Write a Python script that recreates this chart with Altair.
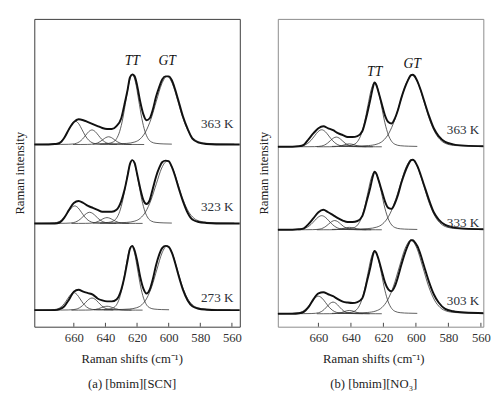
import altair as alt
import pandas as pd

FONT = "Liberation Serif"

# ---------------- data ----------------
# Raman shift grids (cm^-1) on which the measured envelopes were read
left_cm = [685, 676, 672, 669, 666, 663, 660, 657, 654, 651, 648, 645, 642, 639, 636, 633, 630, 628, 626, 624.5,
           623, 621.5, 620, 618, 616, 614, 612, 610, 608, 606, 604, 602, 600, 598, 596, 594, 591, 588, 585, 581,
           576, 570, 555]
right_cm = [685, 676, 672, 669, 666, 663, 660, 657, 654, 651, 648, 645, 642, 639, 636, 633, 630, 628,
            626.5, 625.5, 624.5, 623, 621, 619, 617, 615, 613, 611, 609, 607, 605, 603, 602, 601, 599, 597, 595, 592,
            589, 586, 582, 577, 570, 555]

# measured spectra (intensity above each spectrum's baseline, arbitrary units)
left_363 = [0, 0, 0.5, 1.5, 7, 16, 23, 26, 25, 23, 21, 19, 17, 16, 16, 19, 27, 41, 56, 69,
            72, 70, 61, 44, 31, 25, 27, 36, 49, 59, 67, 70, 70, 66, 57, 46, 29, 16, 6, 2, 0.5, 0, 0]
left_323 = [0, 0, 0, 1, 6, 14, 21, 23, 21, 18, 16, 14, 12, 12, 12, 14, 23, 34, 49, 61,
            65, 62, 51, 36, 24, 20, 24, 36, 48, 57, 63, 64.5, 64, 58, 49, 38, 23, 11, 4, 1.5, 0.5, 0, 0]
left_273 = [0, 0, 0, 1, 4, 11, 19, 21, 19, 17.5, 16, 12, 10, 9, 9, 11, 21, 34, 51, 63,
            66, 61, 51, 34, 22, 17, 21, 32, 46, 57, 64, 66, 65, 59, 49, 37, 21, 10, 4, 1.5, 0.5, 0, 0]
right_363 = [0, 0, 0.5, 2, 8, 14, 19, 21, 19, 17, 14, 12, 10, 10, 11, 16, 34, 49,
             61, 66, 64, 56, 44, 32, 25.5, 24, 29, 38, 50, 60, 68, 73.5, 74, 73, 67, 58, 47.5, 32, 19, 11, 5, 2.5, 1.2, 0.5]
right_333 = [0, 0, 0.5, 1.5, 6, 12, 18, 20.5, 18, 15, 12, 9.5, 8, 8, 9, 14, 31, 44,
             55, 59.5, 58, 51, 40, 29, 22.5, 21.5, 27, 36, 48, 58, 66, 71.5, 72, 71, 65, 56, 46, 31, 18, 10.5, 5, 2.5, 1.2, 0.5]
right_303 = [0, 0, 0.5, 2, 7, 15, 21, 22, 20, 18, 15, 12.5, 11.5, 11, 12, 16, 34, 48,
             60, 64.5, 63, 56, 44, 32, 25, 23, 28, 38, 50, 61, 70, 75.5, 75.5, 74, 69, 60, 49, 33, 20, 11.5, 5, 2.5, 1.2, 0.5]

# vertical offsets (baselines) of the stacked spectra
left_offsets = [187, 106, 17]
right_offsets = [184.7, 99.5, 13.3]
left_temps = ["363 K", "323 K", "273 K"]
right_temps = ["363 K", "333 K", "303 K"]

# fitted band line shape (offset in FWHM units, relative height)
prof_r = [-2.5, -2, -1.5, -1.2, -1.0, -0.8, -0.6, -0.4, -0.2, 0, 0.2, 0.4, 0.6, 0.8, 1.0, 1.2, 1.5, 2, 2.5]
prof_v = [0.006, 0.009, 0.017, 0.038, 0.083, 0.187, 0.374, 0.637, 0.890, 1, 0.890, 0.637, 0.374, 0.187, 0.083,
          0.038, 0.017, 0.009, 0.006]

# fitted bands: centers (cm^-1), heights, FWHM; order: 3 weak bands, TT, GT
left_centers = [[659, 648.5, 638, 623, 601], [659.4, 650, 639, 623, 601], [660, 648.5, 639, 623.5, 601]]
left_heights = [[24, 15, 8, 72, 70], [18, 11.5, 6, 65, 64], [18, 12.5, 4, 66, 66]]
left_fwhm = [[10.5, 10, 9, 10, 17], [10.5, 10, 9, 10, 17], [10, 10, 9, 9.5, 16]]
right_centers = [[658, 649, 641, 625.4, 602.3], [658, 650, 641, 625.4, 602.5], [660, 651, 641, 625.4, 603]]
right_heights = [[17.5, 10, 3, 66, 73.5], [14.5, 9.5, 2.5, 59.5, 72], [18, 12, 3.4, 64.5, 75.5]]
right_fwhm = [[11, 9, 8, 10.5, 18], [11, 9, 8, 10.5, 18], [11, 9, 8, 10.5, 18]]

tick_values = [660, 640, 620, 600, 580, 560]
band_names = ["TT", "GT"]


def panel(cm, spectra, offsets, temps, centers, heights, fwhm, domain, caption,
          temp_x, temp_lift, band_lift, frame, title_x):
    W, H = 211, 316
    tot_rows, comp_rows, temp_rows, band_rows = [], [], [], []
    for s, (vals, off, t) in enumerate(zip(spectra, offsets, temps)):
        for c, v in zip(cm, vals):
            tot_rows.append({"spec": s, "cm": c, "y": off + v})
        for k, (c0, h, w) in enumerate(zip(centers[s], heights[s], fwhm[s])):
            for r, p in zip(prof_r, prof_v):
                comp_rows.append({"band": f"{s}-{k}", "cm": c0 + r * w, "y": off + h * p})
        temp_rows.append({"label": t, "cm": temp_x, "y": off + temp_lift[s]})
    for j, name in enumerate(band_names):
        band_rows.append({"label": name, "cm": centers[0][3 + j],
                          "y": offsets[0] + heights[0][3 + j] + band_lift[j]})

    x = alt.X("cm:Q",
              scale=alt.Scale(domain=domain, nice=False, zero=False),
              axis=alt.Axis(values=tick_values, ticks=False, domain=False, grid=False,
                            labelFont=FONT, labelFontSize=13, labelColor="#333333", labelPadding=5,
                            title=["Raman shifts (cm\u207b\u00b9)", caption],
                            titleFont=FONT, titleFontSize=13, titleFontWeight="normal",
                            titleColor="#222222", titlePadding=9, titleLineHeight=25, titleX=title_x))
    y = alt.Y("y:Q",
              scale=alt.Scale(domain=[0, H], nice=False, zero=False),
              axis=alt.Axis(labels=False, ticks=False, domain=False, grid=False,
                            title="Raman intensity", titleFont=FONT, titleFontSize=13,
                            titleFontWeight="normal", titleColor="#222222", titlePadding=8))

    comps = alt.Chart(pd.DataFrame(comp_rows)).mark_line(
        interpolate="monotone", strokeWidth=0.8, color="#333333", clip=True
    ).encode(x=x, y=y, detail="band:N")
    totals = alt.Chart(pd.DataFrame(tot_rows)).mark_line(
        interpolate="monotone", strokeWidth=2, color="#111111", clip=True
    ).encode(x=x, y=y, detail="spec:N")
    ticks = alt.Chart(pd.DataFrame({"cm": tick_values})).mark_rule(
        color="#444444", strokeWidth=1
    ).encode(x=x, y=alt.value(H - 4), y2=alt.value(H))
    tlabels = alt.Chart(pd.DataFrame(temp_rows)).mark_text(
        align="right", baseline="middle", font=FONT, fontSize=13.5, color="#2a2f36"
    ).encode(x=x, y=y, text="label:N")
    blabels = alt.Chart(pd.DataFrame(band_rows)).mark_text(
        align="center", baseline="middle", font=FONT, fontSize=14, fontStyle="italic", color="#111111"
    ).encode(x=x, y=y, text="label:N")

    return alt.layer(comps, totals, ticks, tlabels, blabels).properties(
        width=W, height=H, view=alt.ViewBackground(stroke=frame, strokeWidth=1, fill=None)
    )


left = panel(left_cm, [left_363, left_323, left_273], left_offsets, left_temps,
             left_centers, left_heights, left_fwhm, [685, 555], "(a)  [bmim][SCN]",
             559, [21, 17, 12], [14, 16], "#3a3a3a", 100)
right = panel(right_cm, [right_363, right_333, right_303], right_offsets, right_temps,
              right_centers, right_heights, right_fwhm, [685, 558.5], "(b)  [bmim][NO\u2083]",
              561, [17, 7, 13], [11, 11], "#8a8a8a", 98)

chart = alt.hconcat(left, right, spacing=14).properties(
    padding={"left": 5, "top": 5, "right": 5, "bottom": 2}
).configure(font=FONT)

chart.save("out.html", embed_options={"renderer": "svg", "actions": False})
